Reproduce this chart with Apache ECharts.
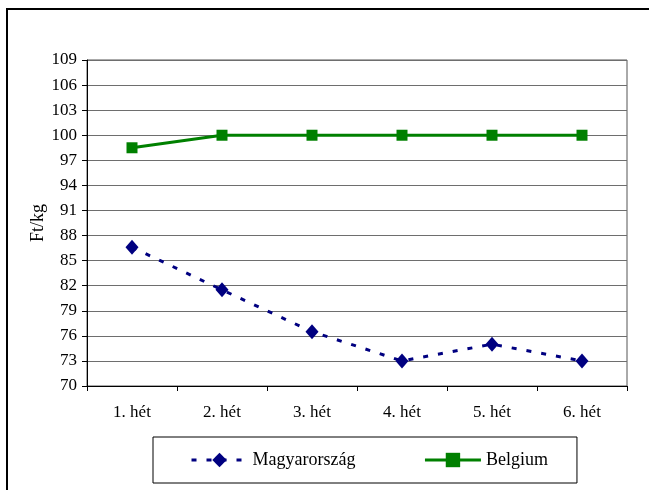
<!DOCTYPE html>
<html>
<head>
<meta charset="utf-8">
<script src="https://cdn.jsdelivr.net/npm/echarts@6/dist/echarts.min.js"></script>
<style>
html,body{margin:0;padding:0;background:#fff;}
#c{width:649px;height:490px;}
</style>
</head>
<body>
<div id="c"></div>
<script>
const categories = ['1. hét', '2. hét', '3. hét', '4. hét', '5. hét', '6. hét'];
const magyarorszag = [86.6, 81.5, 76.5, 73.0, 75.0, 73.0];
const belgium = [98.5, 100, 100, 100, 100, 100];
const yMin = 70, yMax = 109, yStep = 3;

const font = 'Liberation Serif';
const chart = echarts.init(document.getElementById('c'), null, {renderer: 'canvas'});
chart.setOption({
  backgroundColor: '#fff',
  animation: false,
  textStyle: {fontFamily: font, color: '#000'},
  graphic: [
    {type: 'line', shape: {x1: 6, y1: 9, x2: 649, y2: 9}, style: {stroke: '#000', lineWidth: 2}},
    {type: 'line', shape: {x1: 7, y1: 8, x2: 7, y2: 490}, style: {stroke: '#000', lineWidth: 2}}
  ],
  grid: {left: 87, right: 22, top: 60, bottom: 104, show: true, borderColor: '#555', borderWidth: 1, backgroundColor: 'transparent'},
  legend: {
    left: 153, top: 437,
    padding: [14, 29, 14, 37],
    borderColor: '#000', borderWidth: 1,
    itemGap: 68, itemWidth: 56, itemHeight: 18,
    lineStyle: {width: 3},
    textStyle: {fontFamily: font, fontSize: 18, color: '#000'},
    data: ['Magyarország', 'Belgium']
  },
  xAxis: {
    type: 'category', data: categories, boundaryGap: true,
    axisLine: {lineStyle: {color: '#000', width: 1}},
    axisTick: {show: true, length: 5, lineStyle: {color: '#000'}},
    axisLabel: {fontFamily: font, fontSize: 17, color: '#000', margin: 18},
    splitLine: {show: false}
  },
  yAxis: {
    type: 'value', min: yMin, max: yMax, interval: yStep,
    name: 'Ft/kg', nameLocation: 'middle', nameGap: 40, nameRotate: 90,
    nameMoveOverlap: false,
    nameTextStyle: {fontFamily: font, fontSize: 18, color: '#000'},
    axisLine: {show: true, lineStyle: {color: '#000', width: 1}},
    axisTick: {show: true, length: 5, lineStyle: {color: '#000'}},
    axisLabel: {fontFamily: font, fontSize: 17, color: '#000', margin: 10},
    splitLine: {show: true, lineStyle: {color: '#6e6e6e', width: 1}}
  },
  series: [
    {
      name: 'Magyarország', type: 'line', data: magyarorszag,
      symbol: 'diamond', symbolSize: [13, 15],
      lineStyle: {color: '#000080', width: 3, type: [5, 10]},
      itemStyle: {color: '#000080'}
    },
    {
      name: 'Belgium', type: 'line', data: belgium,
      symbol: 'rect', symbolSize: [11, 11],
      lineStyle: {color: '#008000', width: 3},
      itemStyle: {color: '#008000'}
    }
  ]
});
</script>
</body>
</html>
